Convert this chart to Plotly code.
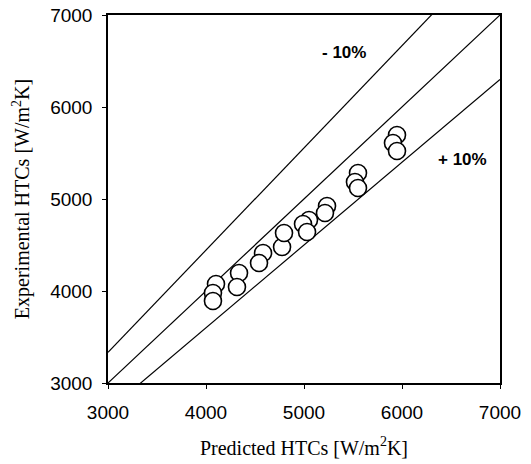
import plotly.graph_objects as go

# Measured vs predicted heat transfer coefficients [W/m2K]
predicted = [4102, 4071, 4071, 4337, 4316, 4582, 4541, 4776, 4796,
             5051, 4990, 5031, 5235, 5214, 5551, 5520, 5551, 5949, 5908, 5949]
experimental = [4076, 3978, 3891, 4196, 4043, 4413, 4304, 4478, 4630,
                4772, 4728, 4641, 4924, 4848, 5283, 5185, 5120, 5696, 5609, 5522]

# Parity line and +/-10% deviation bands
band_x = [3000, 7000]
parity_y = [v for v in band_x]
minus10_y = [v / 0.9 for v in band_x]
plus10_y = [v * 0.9 for v in band_x]

line_style = dict(color="black", width=1.2)

fig = go.Figure()
for yy in (minus10_y, parity_y, plus10_y):
    fig.add_trace(go.Scatter(x=band_x, y=yy, mode="lines", line=line_style,
                             hoverinfo="skip", showlegend=False))

fig.add_trace(go.Scatter(
    x=predicted, y=experimental, mode="markers",
    marker=dict(symbol="circle", size=17, color="white",
                line=dict(color="black", width=1.6)),
    showlegend=False,
))

label_font = dict(family="Liberation Sans, Arial, sans-serif", size=17, color="black")
fig.add_annotation(x=5410, y=6590, text="<b>- 10%</b>", showarrow=False, font=label_font)
fig.add_annotation(x=6620, y=5425, text="<b>+ 10%</b>", showarrow=False, font=label_font)

axis_common = dict(
    range=[3000, 7000], tickvals=[3000, 4000, 5000, 6000, 7000],
    showgrid=False, zeroline=False, showline=True, linecolor="black",
    linewidth=1.5, mirror=True, ticks="outside", ticklen=4, tickwidth=1.2,
    tickcolor="black", automargin=False,
    tickfont=dict(family="Liberation Sans, Arial, sans-serif", size=19, color="black"),
)
title_font = dict(family="Liberation Serif, Times New Roman, serif", size=20, color="black")

fig.update_layout(
    width=531, height=464,
    margin=dict(l=108, r=31, t=15, b=81),
    paper_bgcolor="white", plot_bgcolor="white",
    xaxis=dict(axis_common, ticklabelstandoff=7,
               title=dict(text="Predicted HTCs [W/m<sup>2</sup>K]", standoff=19,
                          font=title_font)),
    yaxis=dict(axis_common, ticklabelstandoff=6,
               title=dict(text="Experimental HTCs [W/m<sup>2</sup>K]", standoff=15,
                          font=title_font)),
)

fig.write_html("out.html")
